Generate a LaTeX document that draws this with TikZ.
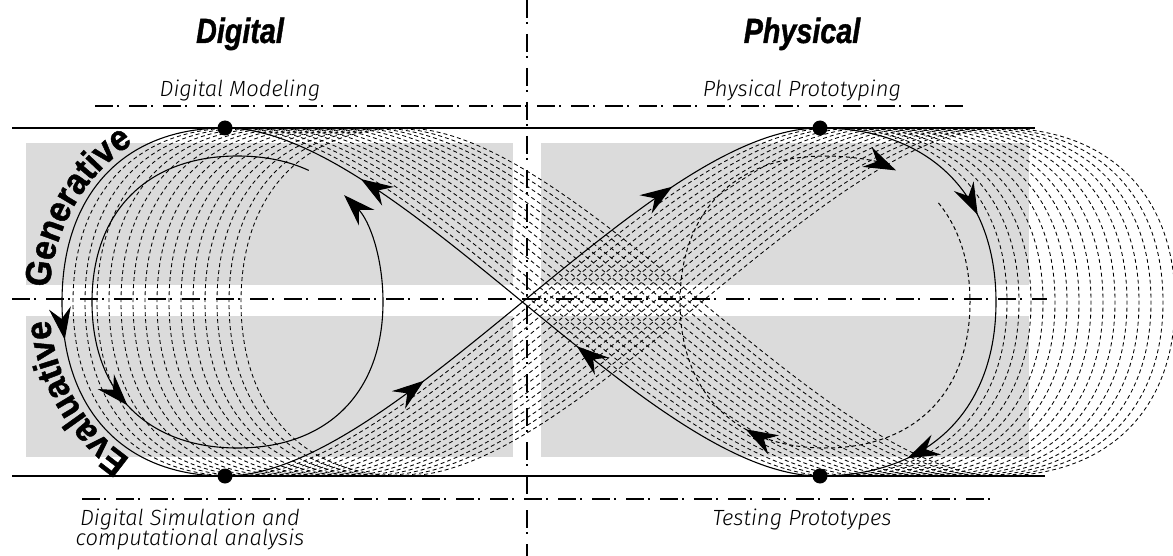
\documentclass[tikz,border=0pt]{standalone}
\usepackage{fontspec}
\usetikzlibrary{arrows.meta,decorations.markings,decorations.text}
\newfontfamily\titlefont{Liberation Sans}[FakeStretch=0.82, FakeBold=1]
\newfontfamily\arcfont{Liberation Sans}[FakeStretch=0.93, FakeBold=1.3]
\newfontfamily\labfont{Fira Sans Light Italic}
\def\tip{\arrow{Stealth[length=16pt,width=11pt,inset=5.5pt]}}
\tikzset{
  copyline/.style={line width=0.42pt, dash pattern=on 2pt off 1.5pt},
  mainline/.style={line width=0.55pt},
  thickdd/.style={line width=1pt, dash pattern=on 9pt off 2pt on 1pt off 5pt},
  thindd/.style={line width=0.55pt, dash pattern=on 9pt off 2pt on 1pt off 5pt},
  rail/.style={line width=1pt},
  dotnode/.style={circle, fill=black, inner sep=0pt, minimum size=7.5pt},
  titletext/.style={anchor=base, font=\titlefont\bfseries\itshape\fontsize{17.5pt}{20pt}\selectfont},
  labtext/.style={anchor=base, font=\labfont\fontsize{11pt}{13pt}\selectfont},
  graybox/.style={fill=black!14},
  endtip/.style={-{Stealth[length=16pt,width=11pt,inset=5.5pt]}}
}
\begin{document}
\begin{tikzpicture}[x=0.5pt,y=-0.5pt]
\useasboundingbox (0,0) rectangle (1173,556);
\clip (0,0) rectangle (1173,556);
\fill[white] (0,0) rectangle (1173,556);
% gray boxes
\fill[graybox] (26,143) rectangle (513,285);
\fill[graybox] (26,316) rectangle (513,457);
\fill[graybox] (541,143) rectangle (1029,285);
\fill[graybox] (541,316) rectangle (1029,457);
% named points
\coordinate (TL) at (225,128);
\coordinate (BL) at (225,476);
\coordinate (TR) at (820,128);
\coordinate (BR) at (820,476);
\coordinate (Lm) at (62,302);
\coordinate (Rm) at (996,302);
% dashed shifted copies of the figure eight
\foreach \k in {1,...,15}{
  \draw[copyline, shift={(12*\k-1,0)}]
    (225,128) .. controls (123.9,128) and (62,194.1) .. (62,302)
    .. controls (62,409.9) and (123.9,476) .. (225,476)
    .. controls (396,476) and (649,128) .. (820,128)
    .. controls (929.1,128) and (996,194.1) .. (996,302)
    .. controls (996,409.9) and (929.1,476) .. (820,476)
    .. controls (649,476) and (396,128) .. (225,128);
}
% inner loop, left (solid)
\coordinate (iLs) at (308.7,170.4);
\coordinate (iLe) at (344.1,195.1);
\draw[mainline, endtip, postaction={decorate}, decoration={markings, mark=at position 0.47 with {\tip}}]
  (iLs) .. controls (288.5,161.0) and (264.6,156) .. (237.5,156)
  .. controls (147.3,156) and (92,211.5) .. (92,302)
  .. controls (92,392.5) and (147.3,448) .. (237.5,448)
  .. controls (327.7,448) and (383,392.5) .. (383,302)
  .. controls (383,256.75) and (369.2,220.25) .. (iLe);
% inner loop, right (dashed)
\coordinate (iRs) at (938.4,202.9);
\coordinate (iRe) at (896,170.4);
\draw[copyline, line width=0.5pt, endtip, postaction={decorate}, decoration={markings, mark=at position 0.48 with {\tip}}]
  (iRs) .. controls (958.8,227.6) and (970,261.3) .. (970,302)
  .. controls (970,392.5) and (914.9,448) .. (825,448)
  .. controls (735.1,448) and (680,392.5) .. (680,302)
  .. controls (680,211.5) and (735.1,156) .. (825,156)
  .. controls (852,156) and (875.8,161) .. (iRe);
% main solid figure eight
\draw[mainline, postaction={decorate}, decoration={markings, mark=at position 0.57 with {\tip}}]
  (TL) .. controls +(-101.1,0) and +(0,-107.9) .. (Lm) .. controls +(0,107.9) and +(-101.1,0) .. (BL);
\draw[mainline, postaction={decorate}, decoration={markings, mark=at position 0.32 with {\tip}, mark=at position 0.77 with {\tip}}]
  (BL) .. controls +(171,0) and +(-171,0) .. (TR);
\draw[mainline, postaction={decorate}, decoration={markings, mark=at position 0.34 with {\tip}, mark=at position 0.84 with {\tip}}]
  (TR) .. controls +(109.1,0) and +(0,-107.9) .. (Rm) .. controls +(0,107.9) and +(109.1,0) .. (BR);
\draw[mainline, postaction={decorate}, decoration={markings, mark=at position 0.40 with {\tip}, mark=at position 0.79 with {\tip}}]
  (BR) .. controls +(-171,0) and +(171,0) .. (TL);
% rails
\coordinate (r1a) at (12,128); \coordinate (r1b) at (1035,128);
\coordinate (r2a) at (12,476); \coordinate (r2b) at (1045,476);
\draw[rail] (r1a) -- (r1b);
\draw[rail] (r2a) -- (r2b);
% dash-dot axes
\coordinate (h1a) at (95,106); \coordinate (h1b) at (965,106);
\coordinate (h2a) at (82,499); \coordinate (h2b) at (998,499);
\coordinate (hma) at (12,299); \coordinate (hmb) at (1047,299);
\coordinate (va) at (527,0); \coordinate (vb) at (527,556);
\draw[thindd] (h1a) -- (h1b);
\draw[thindd] (h2a) -- (h2b);
\draw[thickdd] (hma) -- (hmb);
\draw[thickdd] (va) -- (vb);
% dots
\node[dotnode] (dTL) at (TL) {};
\node[dotnode] (dBL) at (BL) {};
\node[dotnode] (dTR) at (TR) {};
\node[dotnode] (dBR) at (BR) {};
% arc texts
\path[decorate, decoration={text along path, text align=center,
  text={|\arcfont\bfseries\fontsize{18pt}{18pt}\selectfont|Generative}}]
  ([shift={(-197:176 and 186)}]225,302) arc[start angle=-197, end angle=-99, x radius=176, y radius=186];
\path[decorate, decoration={text along path, text align=center,
  text={|\arcfont\bfseries\fontsize{18pt}{18pt}\selectfont|Evaluative}}]
  ([shift={(-261:176 and 186)}]225,302) arc[start angle=-261, end angle=-163, x radius=176, y radius=186];
% titles and labels
\node[titletext] (tD) at (240,43) {Digital};
\node[titletext] (tP) at (802,43) {Physical};
\node[labtext] (lDM) at (240,97) {Digital Modeling};
\node[labtext] (lPP) at (802,97) {Physical Prototyping};
\node[labtext] (lDS1) at (190,525) {Digital Simulation and};
\node[labtext] (lDS2) at (190,545) {computational analysis};
\node[labtext] (lTP) at (802,525) {Testing Prototypes};
\end{tikzpicture}
\end{document}
